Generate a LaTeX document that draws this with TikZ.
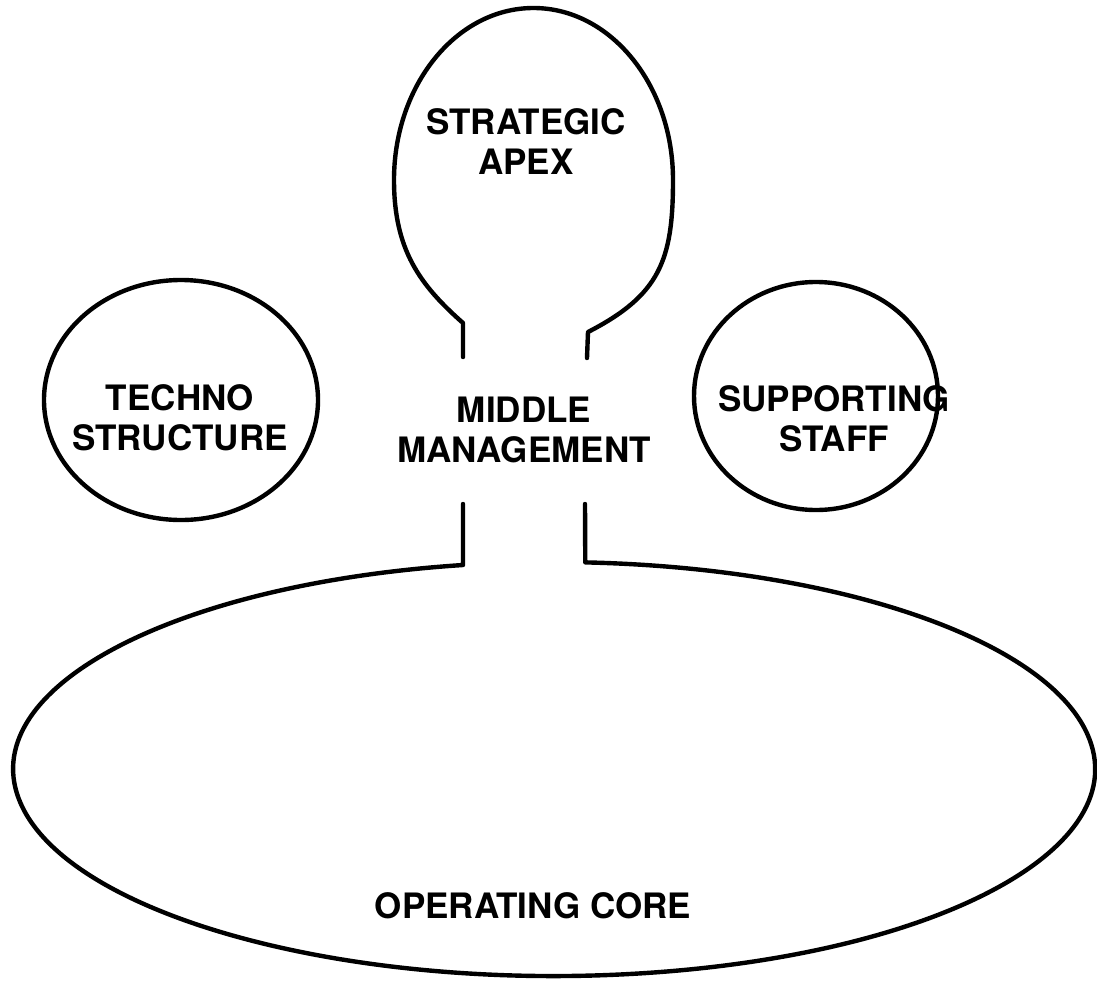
\documentclass[tikz,border=0pt]{standalone}
\usepackage{fontspec}
\setmainfont{TeX Gyre Heros}
\usetikzlibrary{positioning}

\begin{document}
\begin{tikzpicture}[x=1pt, y=-1pt, line join=round, line cap=round,
  part/.style={draw, line width=4.4pt},
  unit/.style={font=\fontsize{35}{40}\selectfont\bfseries, align=center, inner sep=0pt}]

  \useasboundingbox (0,0) rectangle (1097,983);

  % the five parts
  \node[unit] (apex) at (526,142) {STRATEGIC\\APEX};
  \node[unit] (techno) at (180,418) {TECHNO\\STRUCTURE};
  \node[unit] (middle) at (524,430) {MIDDLE\\MANAGEMENT};
  \node[unit] (staff) at (834,419) {SUPPORTING\\STAFF};
  \node[unit] (core) at (533,906) {OPERATING CORE};

  % strategic apex with its neck
  \draw[part] (463,357) -- (463,323)
    .. controls (420,285) and (394,250) .. (394,180)
    arc[start angle=180, end angle=360, x radius=139.5, y radius=172]
    .. controls (673,260) and (660,295) .. (588,332) -- (587,358);

  % side units
  \draw[part] (181,400) ellipse [x radius=137, y radius=120];
  \draw[part] (816,396) ellipse [x radius=122, y radius=114];

  % operating core with the middle line
  \draw[part] (463,504) -- (463,565)
    arc[start angle=260.3, end angle=-86.7, x radius=541, y radius=207]
    -- (585,504);

\end{tikzpicture}
\end{document}
